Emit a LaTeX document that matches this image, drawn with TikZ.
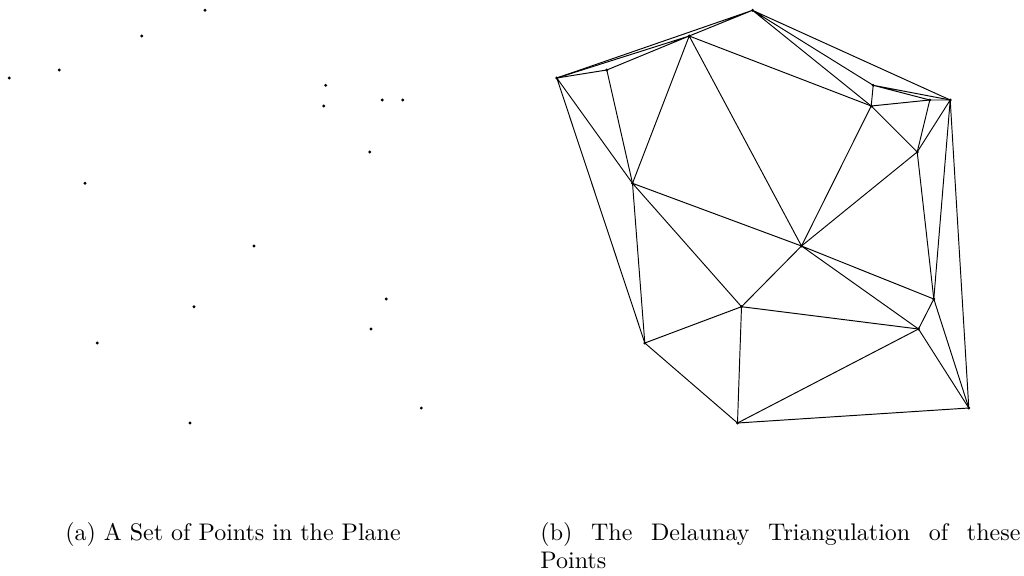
\documentclass[tikz,border=0pt]{standalone}
\usepackage{tikz}

% the same point set is used in both panels
\newcommand{\pointset}[1]{%
  \coordinate (#1A) at (205,10.3);
  \coordinate (#1B) at (141.7,36);
  \coordinate (#1C) at (9.3,78);
  \coordinate (#1D) at (59.3,70);
  \coordinate (#1E) at (325.7,85.3);
  \coordinate (#1F) at (323.7,106);
  \coordinate (#1G) at (382.3,100);
  \coordinate (#1H) at (402.7,100);
  \coordinate (#1I) at (369.7,152);
  \coordinate (#1J) at (85,183.3);
  \coordinate (#1K) at (254,246);
  \coordinate (#1L) at (386.3,299);
  \coordinate (#1M) at (194,306.7);
  \coordinate (#1N) at (371,329);
  \coordinate (#1O) at (97.3,343);
  \coordinate (#1Q) at (421.3,408);
  \coordinate (#1R) at (190,423);
  \foreach \p in {A,B,C,D,E,F,G,H,I,J,K,L,M,N,O,Q,R}
    \fill (#1\p) circle (0.65pt);
}

\begin{document}
\begin{tikzpicture}[x=0.4167pt,y=-0.4167pt]

  % Page frame
  \useasboundingbox (0,0) rectangle (1024,575);

  % (a) points only
  \pointset{l}

  % (b) same points, triangulated
  \begin{scope}[shift={(547.5,0)}]
    \pointset{r}

    % Outer hull and top fan
    \draw (rA) -- (rB) (rA) -- (rC) (rA) -- (rE) (rA) -- (rF) (rA) -- (rH);
    \draw (rB) -- (rC) (rB) -- (rD) (rB) -- (rJ) (rB) -- (rK) (rB) -- (rF);
    \draw (rC) -- (rD) (rC) -- (rJ) (rC) -- (rO);
    \draw (rD) -- (rJ);

    % Right cluster
    \draw (rE) -- (rF) (rE) -- (rG) (rE) -- (rH);
    \draw (rF) -- (rG) (rF) -- (rI) (rF) -- (rK);
    \draw (rG) -- (rH) (rG) -- (rI);
    \draw (rH) -- (rI) (rH) -- (rL) (rH) -- (rQ);
    \draw (rI) -- (rK) (rI) -- (rL);

    % Lower part
    \draw (rJ) -- (rK) (rJ) -- (rM) (rJ) -- (rO);
    \draw (rK) -- (rL) (rK) -- (rN) (rK) -- (rM);
    \draw (rL) -- (rN) (rL) -- (rQ);
    \draw (rM) -- (rN) (rM) -- (rO) (rM) -- (rR);
    \draw (rN) -- (rQ) (rN) -- (rR);
    \draw (rO) -- (rR) (rQ) -- (rR);
  \end{scope}

  % Sub-captions
  \node[text width=200pt, align=center, inner sep=0pt, anchor=base] (capa) at (233,540)
    {(a) A Set of Points in the Plane};
  \node[text width=200pt, align=justify, inner sep=0pt, anchor=base west] (capb) at (540,540)
    {(b) The Delaunay Triangulation of these Points};

\end{tikzpicture}
\end{document}
